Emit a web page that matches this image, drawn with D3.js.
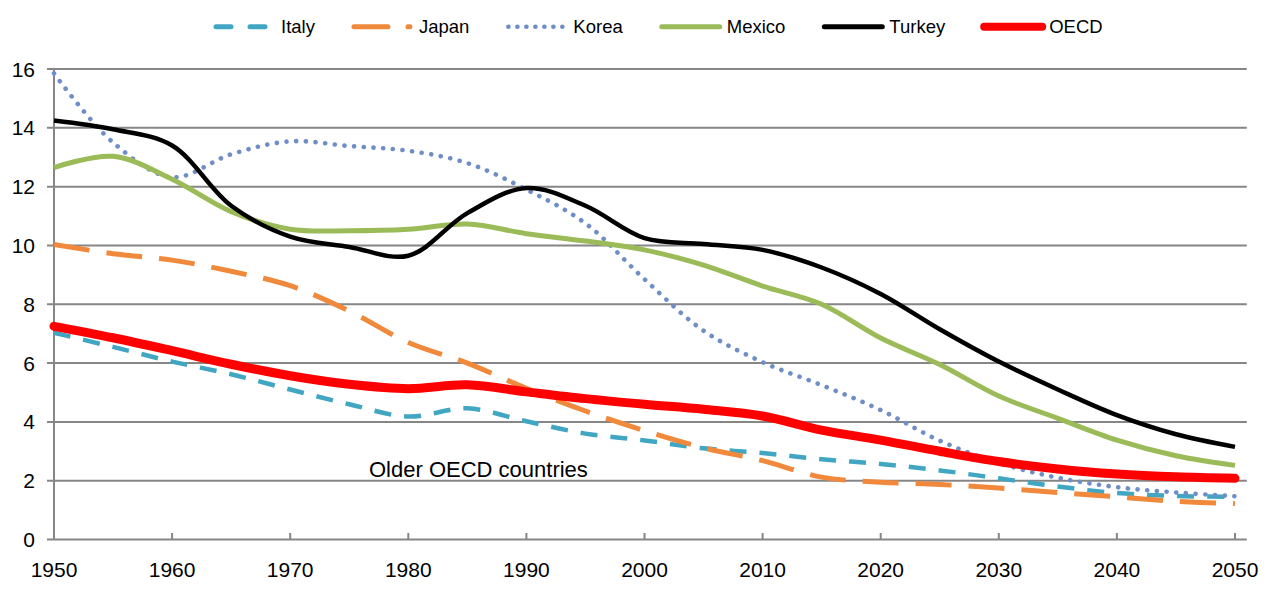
<!DOCTYPE html>
<html>
<head>
<meta charset="utf-8">
<script src="https://cdn.jsdelivr.net/npm/d3@7/dist/d3.min.js"></script>
<style>
  html, body { margin: 0; padding: 0; background: #fff; }
  svg { display: block; font-family: "Liberation Sans", Arial, sans-serif; }
</style>
</head>
<body>
<svg id="chart" width="1283" height="592"></svg>
<script>
// ---- data ----
const years  = [1950,1955,1960,1965,1970,1975,1980,1985,1990,1995,2000,2005,2010,2015,2020,2025,2030,2035,2040,2045,2050];
const italy  = [7.03,6.55,6.05,5.62,5.10,4.60,4.18,4.46,4.02,3.60,3.37,3.10,2.94,2.73,2.57,2.35,2.08,1.80,1.58,1.48,1.45];
const japan  = [10.03,9.72,9.50,9.12,8.63,7.77,6.70,6.00,5.14,4.37,3.70,3.12,2.68,2.12,1.95,1.87,1.75,1.60,1.45,1.30,1.22];
const korea  = [15.85,13.50,12.32,13.10,13.54,13.38,13.22,12.80,11.90,10.75,8.85,7.10,6.03,5.25,4.40,3.36,2.60,2.10,1.78,1.60,1.47];
const mexico = [12.65,13.03,12.25,11.15,10.55,10.50,10.55,10.73,10.40,10.15,9.85,9.33,8.62,8.00,6.85,5.95,4.88,4.12,3.38,2.85,2.52];
const turkey = [14.25,13.95,13.40,11.35,10.30,9.95,9.65,11.10,11.95,11.35,10.25,10.05,9.85,9.25,8.35,7.15,6.05,5.10,4.23,3.58,3.15];
const oecd   = [7.25,6.86,6.42,5.96,5.57,5.28,5.13,5.26,5.02,4.79,4.60,4.43,4.20,3.72,3.38,3.00,2.65,2.40,2.23,2.13,2.08];
const seriesNames = ["Italy","Japan","Korea","Mexico","Turkey","OECD"];
const xTicks = [1950,1960,1970,1980,1990,2000,2010,2020,2030,2040,2050];
const yTicks = [0,2,4,6,8,10,12,14,16];
const annotation = "Older OECD countries";

// ---- styles ----
const styles = {
  Italy:  {color:"#41a6c2", width:4.5, dash:"17,13", cap:"butt"},
  Japan:  {color:"#f0893c", width:5,   dash:"36,17", cap:"butt"},
  Korea:  {color:"#6f8ec6", width:4.6, dash:"0.1,9.6", cap:"round"},
  Mexico: {color:"#9bbb59", width:5,   dash:null, cap:"butt"},
  Turkey: {color:"#000000", width:4.5, dash:null, cap:"butt"},
  OECD:   {color:"#ff0000", width:9,   dash:null, cap:"round"}
};
const values = {Italy:italy, Japan:japan, Korea:korea, Mexico:mexico, Turkey:turkey, OECD:oecd};

const svg = d3.select("#chart");
const x = d3.scaleLinear().domain([1950, 2051]).range([54, 1246.8]);
const y = d3.scaleLinear().domain([0, 16]).range([539.5, 69]);
const gridColor = "#868686";

// gridlines (with outward y tick stubs)
svg.append("g").selectAll("line").data(yTicks).join("line")
  .attr("x1", 47).attr("x2", x(2051))
  .attr("y1", d => y(d)).attr("y2", d => y(d))
  .attr("stroke", gridColor).attr("stroke-width", 2);

// y axis line
svg.append("line").attr("x1", x(1950)).attr("x2", x(1950))
  .attr("y1", y(16)).attr("y2", y(0))
  .attr("stroke", gridColor).attr("stroke-width", 2);

// x ticks (inward)
svg.append("g").selectAll("line").data(xTicks.slice(1)).join("line")
  .attr("x1", d => x(d)).attr("x2", d => x(d))
  .attr("y1", y(0)).attr("y2", y(0) - 6.5)
  .attr("stroke", gridColor).attr("stroke-width", 2);

// y labels
svg.append("g").selectAll("text").data(yTicks).join("text")
  .attr("x", 35).attr("y", d => y(d)).attr("dy", "0.36em")
  .attr("text-anchor", "end").attr("font-size", 21).attr("fill", "#000")
  .text(d => d);

// x labels
svg.append("g").selectAll("text").data(xTicks).join("text")
  .attr("x", d => x(d)).attr("y", 576.5)
  .attr("text-anchor", "middle").attr("font-size", 21).attr("fill", "#000")
  .text(d => d);

// lines
const line = d3.line().curve(d3.curveCatmullRom.alpha(0.5))
  .x((d, i) => x(years[i])).y(d => y(d));
seriesNames.forEach(name => {
  const s = styles[name];
  const p = svg.append("path").datum(values[name])
    .attr("d", line).attr("fill", "none")
    .attr("stroke", s.color).attr("stroke-width", s.width)
    .attr("stroke-linecap", s.cap).attr("stroke-linejoin", "round");
  if (s.dash) p.attr("stroke-dasharray", s.dash);
});

// annotation
svg.append("text").attr("x", 369).attr("y", 476.5)
  .attr("font-size", 22).attr("fill", "#000").text(annotation);

// legend
const leg = svg.append("g");
let lx = 214;
const ly = 26.7;
seriesNames.forEach(name => {
  const s = styles[name];
  const l = leg.append("line")
    .attr("y1", ly).attr("y2", ly)
    .attr("stroke", s.color).attr("stroke-width", name === "OECD" ? 8 : (name==="Korea"?4.6:5))
    .attr("stroke-linecap", "round");
  if (name === "Italy") l.attr("x1", lx + 2).attr("x2", lx + 52).attr("stroke-dasharray", "15,19");
  else if (name === "Japan") l.attr("x1", lx + 2).attr("x2", lx + 58).attr("stroke-dasharray", "34,20");
  else if (name === "Korea") l.attr("x1", lx + 2).attr("x2", lx + 56).attr("stroke-dasharray", "0.1,8.9");
  else l.attr("x1", lx + 2).attr("x2", lx + 60);
  const t = leg.append("text").attr("x", lx + 67).attr("y", ly).attr("dy", "0.36em")
    .attr("font-size", 18.5).attr("fill", "#000").text(name);
  lx = lx + 67 + t.node().getComputedTextLength() + 37;
});
</script>
</body>
</html>
